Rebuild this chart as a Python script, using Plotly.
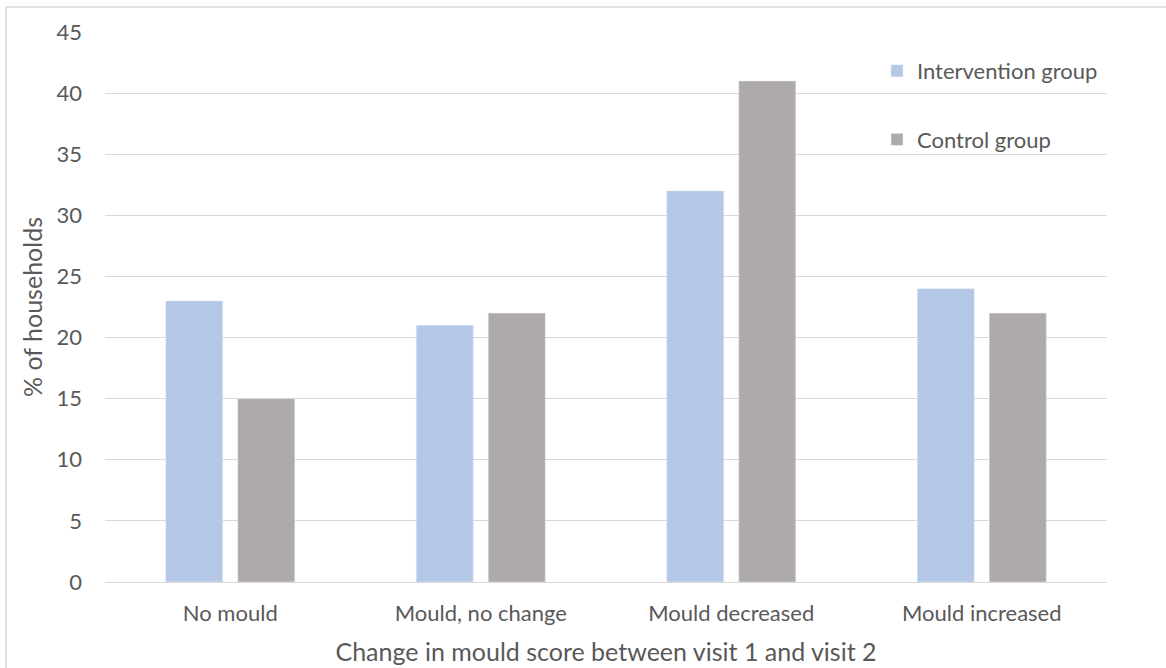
import plotly.graph_objects as go

categories = ["No mould", "Mould, no change", "Mould decreased", "Mould increased"]
intervention = [23, 21, 32, 24]
control = [15, 22, 41, 22]
y_ticks = [0, 5, 10, 15, 20, 25, 30, 35, 40, 45]

W, H = 1166, 668
ml, mr, mt, mb = 105, 59, 32, 86
pw, ph = W - ml - mr, H - mt - mb

font_family = "Lato, Open Sans, sans-serif"
txt = "#595959"

fig = go.Figure()
fig.add_trace(go.Bar(x=categories, y=intervention, name="Intervention group",
                     marker_color="#b4c7e7", legendgroup="a"))
fig.add_trace(go.Bar(x=categories, y=control, name="Control group",
                     marker_color="#aeaaaa", legendgroup="b"))

def px_x(x):
    return (x - ml) / pw

def px_y(y):
    return 1 - (y - mt) / ph

fig.update_layout(
    width=W, height=H,
    margin=dict(l=ml, r=mr, t=mt, b=mb, autoexpand=False),
    paper_bgcolor="white", plot_bgcolor="white",
    barmode="group", bargap=0.425, bargroupgap=0.208,
    font=dict(family=font_family, color=txt, size=22),
    showlegend=True,
    legend=dict(x=px_x(877), y=px_y(50), xanchor="left", yanchor="top",
                font=dict(size=22, color=txt), bgcolor="rgba(0,0,0,0)",
                tracegroupgap=37, itemwidth=30),
    xaxis=dict(showgrid=False, showline=False, ticks="",
               tickfont=dict(size=22, color=txt), ticklabelstandoff=16,
               title=dict(text="Change in mould score between visit 1 and visit 2",
                          font=dict(size=25, color=txt), standoff=18)),
    yaxis=dict(range=[0, 45], tickvals=y_ticks, showgrid=True, gridcolor="#d9d9d9",
               gridwidth=1, zeroline=True, zerolinecolor="#d9d9d9", zerolinewidth=1,
               showline=False, ticks="", tickfont=dict(size=22, color=txt),
               ticklabelstandoff=22,
               title=dict(text="% of households", font=dict(size=25, color=txt),
                          standoff=6)),
    shapes=[
        dict(type="line", xref="paper", yref="paper",
             x0=px_x(6), x1=px_x(6), y0=px_y(668), y1=px_y(7),
             line=dict(color="#d9d9d9", width=1.5)),
        dict(type="line", xref="paper", yref="paper",
             x0=px_x(6), x1=px_x(1166), y0=px_y(7), y1=px_y(7),
             line=dict(color="#d9d9d9", width=1.5)),
    ],
)

fig.write_html("out.html", config={"displayModeBar": False},
               post_script="document.body.style.margin='0';")
